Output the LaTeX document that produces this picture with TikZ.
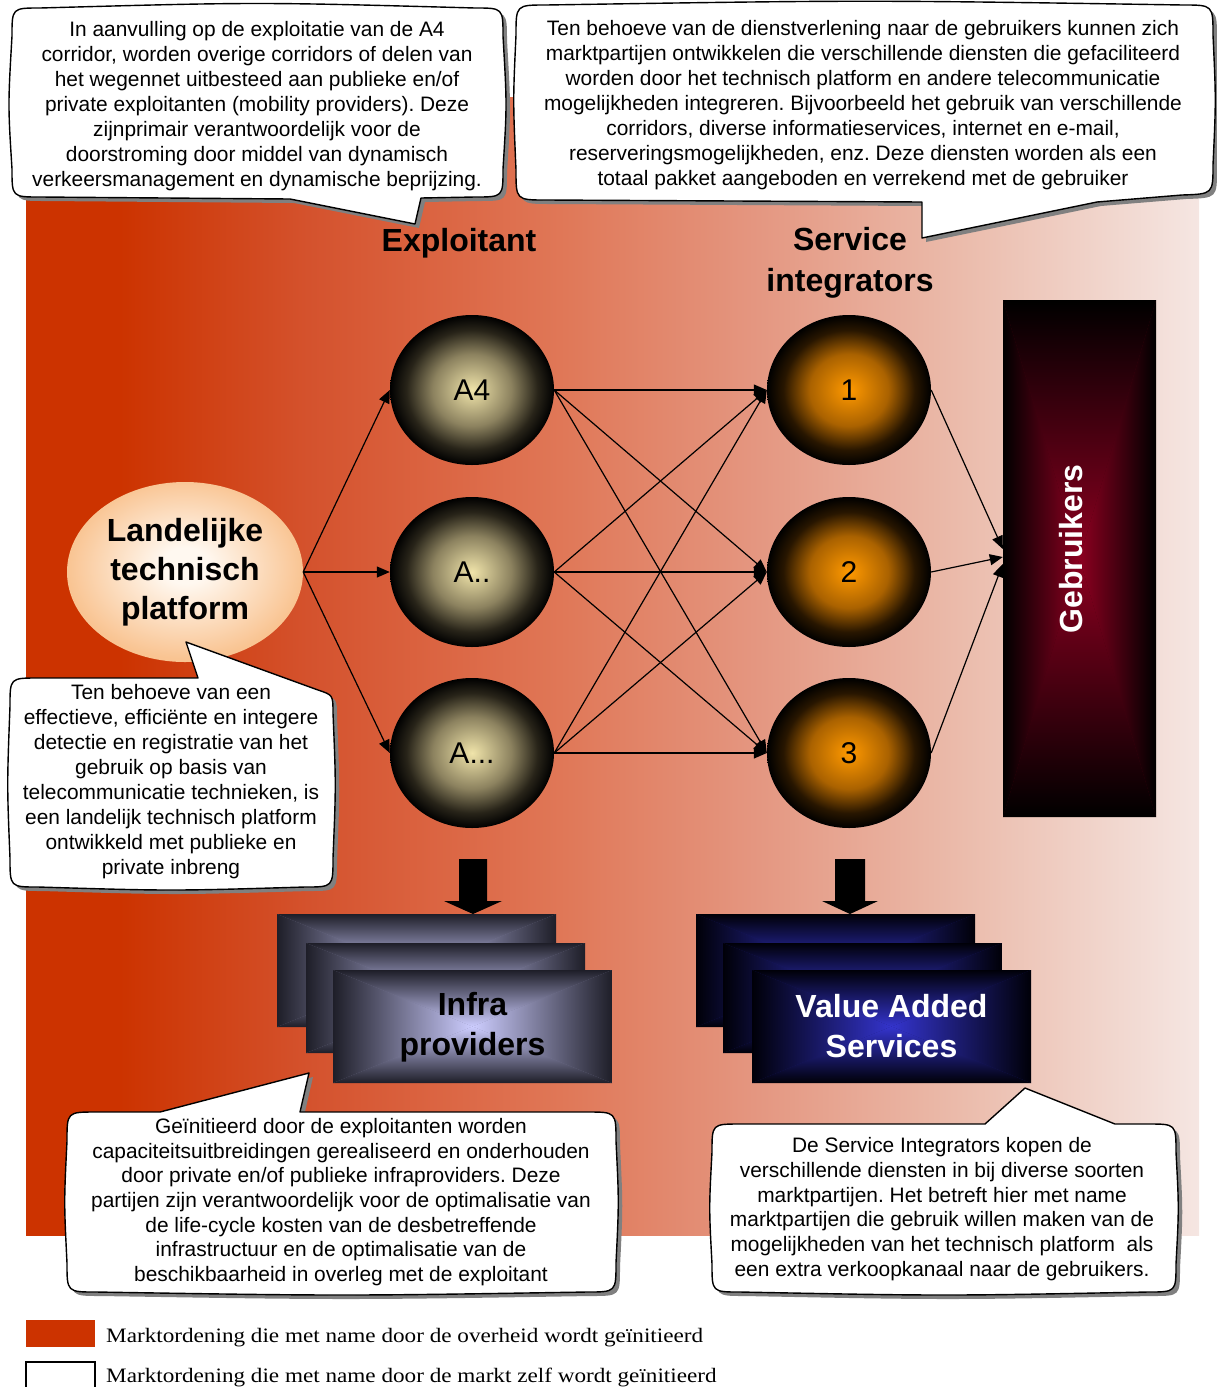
\documentclass[tikz,border=0pt]{standalone}
\usepackage{fontspec}
\setmainfont{Liberation Serif}
\setsansfont{Liberation Sans}
\newfontfamily\legendfont[FakeStretch=1.13]{Liberation Serif}
\usetikzlibrary{arrows.meta,shapes.geometric,shadows}
\frenchspacing

\definecolor{bgA}{RGB}{204,51,0}
\definecolor{bgB}{RGB}{212,82,45}
\definecolor{bgC}{RGB}{218,97,62}
\definecolor{bgD}{RGB}{224,120,88}
\definecolor{bgE}{RGB}{228,150,128}
\definecolor{bgF}{RGB}{235,188,172}
\definecolor{bgG}{RGB}{245,230,226}
\definecolor{expc}{RGB}{240,228,170}
\definecolor{expm}{RGB}{140,130,95}
\definecolor{expd}{RGB}{40,36,25}
\definecolor{srvc}{RGB}{255,153,0}
\definecolor{srvm}{RGB}{170,98,0}
\definecolor{srvd}{RGB}{40,22,0}
\definecolor{peach}{RGB}{249,196,146}
\definecolor{peachc}{RGB}{255,248,240}
\definecolor{gebc}{RGB}{140,0,32}
\definecolor{infe}{RGB}{30,30,40}
\definecolor{infc}{RGB}{205,205,255}
\definecolor{vase}{RGB}{0,0,8}
\definecolor{vasc}{RGB}{52,52,205}

\pgfdeclarehorizontalshading{bgshade}{100bp}{color(0bp)=(bgA); color(25bp)=(bgA); color(29bp)=(bgA); color(37bp)=(bgB); color(41.5bp)=(bgC); color(48bp)=(bgD); color(56bp)=(bgE); color(65bp)=(bgF); color(75bp)=(bgG); color(100bp)=(bgG)}
\pgfdeclareradialshading{expshade}{\pgfpoint{0bp}{0bp}}{color(0bp)=(expc); color(12bp)=(expm); color(20bp)=(expd); color(25bp)=(black); color(50bp)=(black)}
\pgfdeclareradialshading{srvshade}{\pgfpoint{0bp}{0bp}}{color(0bp)=(srvc); color(12bp)=(srvm); color(20bp)=(srvd); color(25bp)=(black); color(50bp)=(black)}
\pgfdeclareradialshading{platshade}{\pgfpoint{0bp}{2bp}}{color(0bp)=(peachc); color(5bp)=(peachc); color(25bp)=(peach); color(50bp)=(peach)}

\newcommand\rgbox[6]{%
  \pgfmathsetmacro\rgcx{(#1+#3)/2}\pgfmathsetmacro\rgcy{(#2+#4)/2}%
  \fill[#6!50!#5] (#1,#2) rectangle (#3,#4);
  \shade[top color=#5,bottom color=#6] (#1,#2) -- (#3,#2) -- (\rgcx,\rgcy) -- cycle;
  \shade[top color=#6,bottom color=#5] (#1,#4) -- (#3,#4) -- (\rgcx,\rgcy) -- cycle;
  \shade[left color=#5,right color=#6] (#1,#2) -- (#1,#4) -- (\rgcx,\rgcy) -- cycle;
  \shade[left color=#6,right color=#5] (#3,#2) -- (#3,#4) -- (\rgcx,\rgcy) -- cycle;
}

\tikzset{
  bubble/.style={draw=black, line width=1.4pt, fill=white, line join=round,
    drop shadow={shadow xshift=4pt, shadow yshift=-4pt, fill=black!50, opacity=1}},
  bubtxt/.style={font=\sffamily\fontsize{20.9}{25}\selectfont, align=center, inner sep=0pt},
  head/.style={font=\sffamily\bfseries\fontsize{32}{41}\selectfont, align=center, inner sep=0pt},
  expnode/.style={ellipse, minimum width=164pt, minimum height=150pt, inner sep=0pt,
    shading=expshade, font=\sffamily\fontsize{30}{36}\selectfont},
  srvnode/.style={ellipse, minimum width=164pt, minimum height=150pt, inner sep=0pt,
    shading=srvshade, font=\sffamily\fontsize{30}{36}\selectfont},
  arr/.style={line width=1.2pt, -{Triangle[length=13pt,width=11pt]}},
  legtxt/.style={font=\legendfont\fontsize{20.5}{24}\selectfont, inner sep=0pt},
}

\begin{document}
\begin{tikzpicture}[x=1pt,y=-1pt]
\useasboundingbox (0,0) rectangle (1216,1387);

% background
\shade[shading=bgshade] (26,97) rectangle (1199,1235);

% platform ellipse
\node[ellipse, minimum width=236pt, minimum height=180pt, inner sep=0pt, shading=platshade,
  font=\sffamily\bfseries\fontsize{32}{39}\selectfont, align=center] (plat) at (185,572)
  {Landelijke\\technisch\\platform};

% exploitant circles
\node[expnode] (a4) at (472,390) {A4};
\node[expnode] (aa) at (472,572) {A..};
\node[expnode] (aaa) at (472,753) {A...};

% service circles
\node[srvnode] (s1) at (849,390) {1};
\node[srvnode] (s2) at (849,572) {2};
\node[srvnode] (s3) at (849,753) {3};

% headings
\node[head] (hexp) at (459,243) {Exploitant};
\node[head] (hsrv) at (850,263) {Service\\integrators};

% Gebruikers box
\rgbox{1003}{300}{1156}{817}{black}{gebc}
\node[minimum width=153pt, minimum height=517pt, inner sep=0pt] (gebr) at (1079.5,558.5) {};
\node[rotate=90, font=\sffamily\bfseries\fontsize{32}{38}\selectfont, text=white, inner sep=0pt] (gebrtxt) at (1071,549) {Gebruikers};
\coordinate (g1) at ([yshift=9.5pt]gebr.west);
\coordinate (g2) at ([yshift=1.5pt]gebr.west);
\coordinate (g3) at ([yshift=-5.5pt]gebr.west);

% arrows
\draw[arr] (plat.east) -- (a4.west);
\draw[arr] (plat.east) -- (aa.west);
\draw[arr] (plat.east) -- (aaa.west);
\foreach \s in {a4,aa,aaa}{
  \foreach \t in {s1,s2,s3}{
    \draw[arr] (\s.east) -- (\t.west);
  }
}
\draw[arr] (s1.east) -- (g1);
\draw[arr] (s2.east) -- (g2);
\draw[arr] (s3.east) -- (g3);

% block arrows
\fill[black] (459,859) -- (487,859) -- (487,901) -- (502,901) -- (473,914) -- (444,901) -- (459,901) -- cycle;
\fill[black] (835,859) -- (865,859) -- (865,901) -- (878,901) -- (850,914) -- (822,901) -- (835,901) -- cycle;

% infra boxes
\rgbox{277}{914}{556}{1027}{infe}{infc}
\rgbox{306}{943}{585}{1053}{infe}{infc}
\rgbox{333}{970}{612}{1083}{infe}{infc}
\node[minimum width=279pt, minimum height=113pt, inner sep=0pt, align=center,
  font=\sffamily\bfseries\fontsize{32}{40}\selectfont] (infra) at (472.5,1027.5) {Infra\\providers};

% VAS boxes
\rgbox{696}{914}{975}{1027}{vase}{vasc}
\rgbox{723}{943}{1002}{1053}{vase}{vasc}
\rgbox{752}{970}{1031}{1083}{vase}{vasc}
\node[minimum width=279pt, minimum height=113pt, inner sep=0pt, align=center, text=white,
  font=\sffamily\bfseries\fontsize{32}{40}\selectfont] (vas) at (891.5,1026.5) {Value Added\\Services};

% bubble 1
\path[bubble] (12,36) .. controls (12,8) .. (40,8) .. controls (257,2) .. (475,8) .. controls (503,8) .. (503,36) .. controls (507,105) .. (503,169) .. controls (503,197) .. (475,197) -- (421,198) -- (415,224) -- (290,199) -- (40,197) .. controls (12,197) .. (12,169) .. controls (8,105) .. (12,36) -- cycle;
\node[bubtxt] (t1) at (257,106) {In aanvulling op de exploitatie van de A4\\corridor, worden overige corridors of delen van\\het wegennet uitbesteed aan publieke en/of\\private exploitanten (mobility providers). Deze\\zijnprimair verantwoordelijk voor de\\doorstroming door middel van dynamisch\\verkeersmanagement en dynamische beprijzing.};

% bubble 2
\path[bubble] (516,35) .. controls (516,5) .. (546,5) .. controls (865,0) .. (1183,5) .. controls (1213,5) .. (1213,35) .. controls (1216,100) .. (1213,165) .. controls (1213,194) .. (1182,195) -- (1097,202) -- (922,238) -- (922,202) -- (546,200) .. controls (516,200) .. (516,170) .. controls (513,100) .. (516,35) -- cycle;
\node[bubtxt] (t2) at (863,105) {Ten behoeve van de dienstverlening naar de gebruikers kunnen zich\\marktpartijen ontwikkelen die verschillende diensten die gefaciliteerd\\worden door het technisch platform en andere telecommunicatie\\mogelijkheden integreren. Bijvoorbeeld het gebruik van verschillende\\corridors, diverse informatieservices, internet en e-mail,\\reserveringsmogelijkheden, enz. Deze diensten worden als een\\totaal pakket aangeboden en verrekend met de gebruiker};

% bubble 3
\path[bubble] (10,706) .. controls (10,678) .. (38,678) -- (198,678) -- (186,642) -- (318,690) .. controls (333,695) .. (333,713) .. controls (336,785) .. (333,858) .. controls (333,887) .. (305,887) .. controls (171,891) .. (38,887) .. controls (10,887) .. (10,858) .. controls (7,785) .. (10,706) -- cycle;
\node[bubtxt] (t3) at (171,782) {Ten behoeve van een\\effectieve, efficiënte en integere\\detectie en registratie van het\\gebruik op basis van\\telecommunicatie technieken, is\\een landelijk technisch platform\\ontwikkeld met publieke en\\private inbreng};

% bubble 4
\path[bubble] (67,1141) .. controls (67,1112) .. (96,1112) -- (160,1112) -- (309,1073) -- (300,1112) -- (587,1112) .. controls (616,1112) .. (616,1141) .. controls (619,1202) .. (616,1263) .. controls (616,1292) .. (587,1292) .. controls (342,1296) .. (96,1292) .. controls (67,1292) .. (67,1263) .. controls (64,1202) .. (67,1141) -- cycle;
\node[bubtxt, font=\sffamily\fontsize{20.9}{24.6}\selectfont] (t4) at (341,1202) {Geïnitieerd door de exploitanten worden\\capaciteitsuitbreidingen gerealiseerd en onderhouden\\door private en/of publieke infraproviders. Deze\\partijen zijn verantwoordelijk voor de optimalisatie van\\de life-cycle kosten van de desbetreffende\\infrastructuur en de optimalisatie van de\\beschikbaarheid in overleg met de exploitant};

% bubble 5
\path[bubble] (712,1152) .. controls (712,1124) .. (740,1124) -- (985,1124) -- (1025,1088) -- (1115,1124) -- (1148,1124) .. controls (1176,1124) .. (1176,1152) .. controls (1179,1208) .. (1176,1264) .. controls (1176,1292) .. (1148,1292) .. controls (944,1296) .. (740,1292) .. controls (712,1292) .. (712,1264) .. controls (709,1208) .. (712,1152) -- cycle;
\node[bubtxt, font=\sffamily\fontsize{20.9}{24.8}\selectfont] (t5) at (942,1209) {De Service Integrators kopen de\\verschillende diensten in bij diverse soorten\\marktpartijen. Het betreft hier met name\\marktpartijen die gebruik willen maken van de\\mogelijkheden van het technisch platform\ \ als\\een extra verkoopkanaal naar de gebruikers.};

% legend
\node[minimum width=69pt, minimum height=27pt, inner sep=0pt, fill=bgA] (leg1) at (60.5,1333.5) {};
\node[legtxt, anchor=base west] (legt1) at (106,1342) {Marktordening die met name door de overheid wordt geïnitieerd};
\draw[black, line width=1.3pt] (26,1395) -- (26,1362) -- (95,1362) -- (95,1395);
\node[legtxt, anchor=base west] (legt2) at (106,1382) {Marktordening die met name door de markt zelf wordt geïnitieerd};
\end{tikzpicture}
\end{document}
